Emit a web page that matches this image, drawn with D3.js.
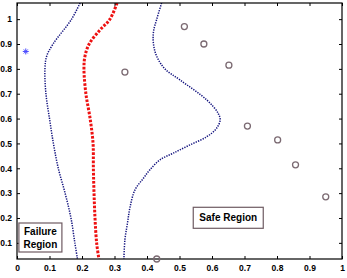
<!DOCTYPE html>
<html><head><meta charset="utf-8">
<script src="https://cdn.jsdelivr.net/npm/d3@7"></script>
<style>body{margin:0;background:#fff}svg{display:block}text{font-family:"Liberation Sans",Arial,sans-serif;font-weight:bold}</style>
</head><body><svg id="c" width="347" height="278"></svg>
<script>
const xTicks = [0,0.1,0.2,0.3,0.4,0.5,0.6,0.7,0.8,0.9,1];
const xTickLabels = ["0","0.1","0.2","0.3","0.4","0.5","0.6","0.7","0.8","0.9","1"];
const yTicks = [0.1,0.2,0.3,0.4,0.5,0.6,0.7,0.8,0.9,1];
const yTickLabels = ["0.1","0.2","0.3","0.4","0.5","0.6","0.7","0.8","0.9","1"];

const safeX = [0.332,0.515,0.575,0.652,0.709,0.802,0.857,0.95,0.43];
const safeY = [0.787,0.97,0.9,0.815,0.57,0.514,0.414,0.285,0.035];
const failX = [0.027];
const failY = [0.87];

const redY = [1.065,1.0,0.956,0.9,0.85,0.8,0.7,0.6,0.5,0.4,0.3,0.2,0.1,0.035];
const redX = [0.308,0.286,0.255,0.222,0.209,0.206,0.212,0.225,0.234,0.235,0.237,0.24,0.245,0.252];

const leftY = [1.065,1.0,0.9,0.85,0.8,0.7,0.6,0.5,0.4,0.3,0.2,0.1,0.035];
const leftX = [0.194,0.168,0.111,0.091,0.086,0.089,0.1,0.112,0.127,0.148,0.166,0.178,0.186];

const rightY = [1.065,1.0,0.95,0.9,0.85,0.8,0.755,0.675,0.621,0.594,0.561,0.527,0.494,0.461,0.434,0.394,0.36,0.313,0.245,0.18,0.112,0.035];
const rightX = [0.445,0.43,0.42,0.42,0.43,0.455,0.502,0.584,0.619,0.625,0.614,0.584,0.532,0.481,0.44,0.409,0.389,0.363,0.348,0.34,0.332,0.329];

const regionText = [["Failure","Region"], ["Safe Region"]];
const regionAt = [[0.072,0.1215],[0.65,0.2008]];

const W=347,H=278, m={l:17,r:5,t:3,b:19};
const boxSize = [[43,29],[70,21]];
const svg=d3.select("#c");
const x=d3.scaleLinear().domain([0,1]).range([m.l,W-m.r]);
const y=d3.scaleLinear().domain([0.035,1.065]).range([H-m.b,m.t]);

svg.append("clipPath").attr("id","clip").append("rect")
  .attr("x",m.l).attr("y",m.t).attr("width",W-m.l-m.r).attr("height",H-m.t-m.b);
const g=svg.append("g").attr("clip-path","url(#clip)");

const line=d3.line().x(d=>x(d[0])).y(d=>y(d[1])).curve(d3.curveCatmullRom.alpha(0.5));
const zip=(a,b)=>a.map((v,i)=>[v,b[i]]);

g.append("path").datum(zip(leftX,leftY)).attr("d",line).attr("fill","none")
  .attr("stroke","#12127e").attr("stroke-width",1.5).attr("stroke-dasharray","1.3,1.2");
g.append("path").datum(zip(rightX,rightY)).attr("d",line).attr("fill","none")
  .attr("stroke","#12127e").attr("stroke-width",1.5).attr("stroke-dasharray","1.3,1.2");
g.append("path").datum(zip(redX,redY)).attr("d",line).attr("fill","none")
  .attr("stroke","#ee1111").attr("stroke-width",3).attr("stroke-dasharray","2.6,1.5");

const box=svg.append("g");
box.append("rect").attr("x",m.l).attr("y",m.t).attr("width",W-m.l-m.r).attr("height",H-m.t-m.b)
  .attr("fill","none").attr("stroke","#000").attr("stroke-width",1.2);

const axB=d3.axisBottom(x).tickValues(xTicks).tickSize(-3).tickPadding(6).tickFormat((d,i)=>xTickLabels[i]);
const axT=d3.axisTop(x).tickValues(xTicks).tickSize(-3).tickFormat("");
const axL=d3.axisLeft(y).tickValues(yTicks).tickSize(-3).tickPadding(5).tickFormat((d,i)=>yTickLabels[i]);
const axR=d3.axisRight(y).tickValues(yTicks).tickSize(-3).tickFormat("");
function style(sel){sel.select(".domain").remove();sel.selectAll("line").attr("stroke","#000");
  sel.selectAll("text").attr("font-size","8.5px").attr("fill","#000").style("font-family",'"Liberation Sans",Arial,sans-serif').style("font-weight","bold");}
svg.append("g").attr("transform",`translate(0,${H-m.b})`).call(axB).call(style);
svg.append("g").attr("transform",`translate(0,${m.t})`).call(axT).call(style);
svg.append("g").attr("transform",`translate(${m.l},0)`).call(axL).call(style);
svg.append("g").attr("transform",`translate(${W-m.r},0)`).call(axR).call(style);

svg.append("g").selectAll("circle").data(zip(safeX,safeY)).join("circle")
  .attr("cx",d=>x(d[0])).attr("cy",d=>y(d[1])).attr("r",3)
  .attr("fill","none").attr("stroke","#7b6a72").attr("stroke-width",1.3);
const fp=svg.append("g").selectAll("g").data(zip(failX,failY)).join("g")
  .attr("transform",d=>`translate(${x(d[0])},${y(d[1])})`);
fp.append("path").attr("d","M-3,0H3M0,-3V3M-2,-2L2,2M-2,2L2,-2").attr("stroke","#4a4aff").attr("stroke-width",1);

const lg=svg.append("g");
regionText.forEach((lines,k)=>{
  const cx=x(regionAt[k][0]), cy=y(regionAt[k][1]);
  const [bw,bh]=boxSize[k];
  lg.append("rect").attr("x",cx-bw/2).attr("y",cy-bh/2).attr("width",bw).attr("height",bh)
    .attr("fill","#fff").attr("stroke","#6e5b62").attr("stroke-width",1.2);
  const t=lg.append("text").attr("text-anchor","middle").attr("font-size","10px").attr("fill","#000");
  const n=lines.length, lh=13;
  lines.forEach((s,i)=>t.append("tspan").attr("x",cx).attr("y",cy+(i-(n-1)/2)*lh).attr("dy","0.36em").text(s));
});
</script></body></html>
